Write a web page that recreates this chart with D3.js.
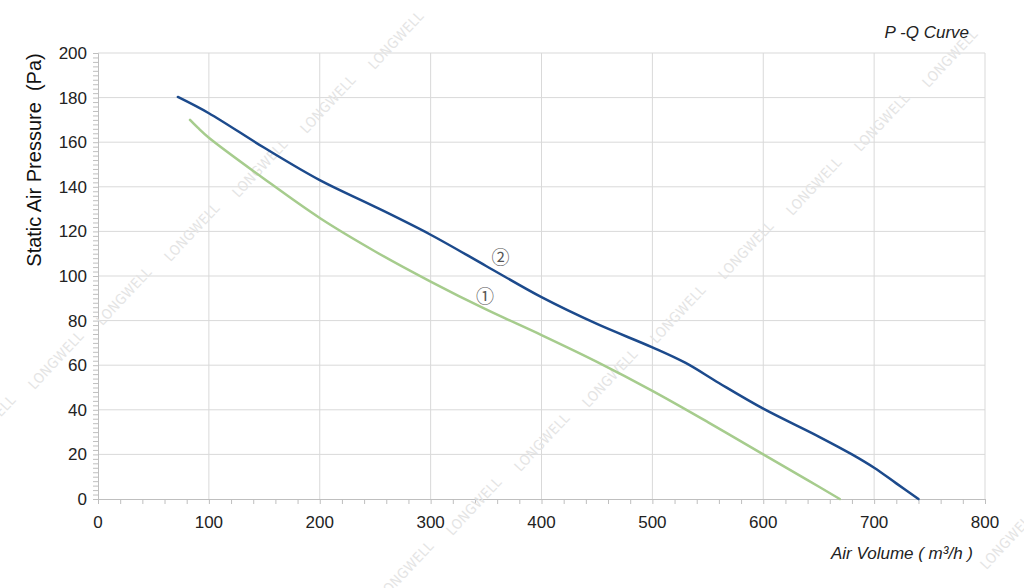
<!DOCTYPE html>
<html><head><meta charset="utf-8">
<script src="https://cdn.jsdelivr.net/npm/d3@7"></script>
<style>body{margin:0;background:#fff}svg{display:block}</style>
</head><body>
<svg id="c" width="1024" height="588"></svg>
<script>
const xTicks = [0,100,200,300,400,500,600,700,800];
const yTicks = [0,20,40,60,80,100,120,140,160,180,200];
const curve2Q = [72,100,150,200,250,300,350,400,450,500,530,560,600,650,680,700,720,740];
const curve2P = [180.3,173,157.5,143,131,118.5,104.5,90.5,78.5,68,61,52,40.5,28,20,14,7,0];
const curve1Q = [83,90,100,150,200,250,300,350,400,450,500,550,600,640,669];
const curve1P = [170,166.5,162,143.5,126,111,97.5,85,73.5,61.5,48.5,34.5,20,8.5,0];
const curveLabels = [{t:"①",q:349,p:90.6},{t:"②",q:363,p:108}];

const svg = d3.select("#c");
const m = {l:98,r:985,t:53,b:499};
const x = d3.scaleLinear().domain([0,800]).range([m.l,m.r]);
const y = d3.scaleLinear().domain([0,200]).range([m.b,m.t]);
const grid = "#d9d9d9", axc = "#bfbfbf";
const FF = "Liberation Sans, Arial, sans-serif";

// grid
const g = svg.append("g");
g.selectAll("line.v").data(xTicks.filter(d=>d>0)).join("line")
  .attr("x1",d=>x(d)).attr("x2",d=>x(d)).attr("y1",m.t).attr("y2",m.b)
  .attr("stroke",grid).attr("stroke-width",1);
g.selectAll("line.h").data(yTicks.filter(d=>d>0)).join("line")
  .attr("x1",m.l).attr("x2",m.r).attr("y1",d=>y(d)).attr("y2",d=>y(d))
  .attr("stroke",grid).attr("stroke-width",1);

// axes
const xAxis = d3.axisBottom(x).tickValues(d3.range(0,801,20)).tickSize(5).tickFormat("");
const xa = svg.append("g").attr("transform",`translate(0,${m.b})`).call(xAxis);
xa.select(".domain").attr("stroke",axc);
xa.selectAll(".tick line").attr("stroke",axc);
const yAxis = d3.axisLeft(y).tickValues(d3.range(0,201,2)).tickSize(5).tickFormat("");
const ya = svg.append("g").attr("transform",`translate(${m.l},0)`).call(yAxis);
ya.select(".domain").attr("stroke",axc);
ya.selectAll(".tick line").attr("stroke",axc);

// tick labels
svg.append("g").selectAll("text").data(xTicks).join("text")
  .attr("x",d=>x(d)).attr("y",528).attr("text-anchor","middle")
  .attr("font-family",FF).attr("font-size",17).attr("fill","#222")
  .text(d=>d);
svg.append("g").selectAll("text").data(yTicks).join("text")
  .attr("x",87).attr("y",d=>y(d)+6).attr("text-anchor","end")
  .attr("font-family",FF).attr("font-size",17).attr("fill","#222")
  .text(d=>d);

// watermarks
const wm = svg.append("g");
const wmPos = [];
for(let i=0;i<7;i++) wmPos.push([396-68*i, 40+64*i]);
for(let i=0;i<9;i++) wmPos.push([950-68*i, 58+64*i]);
wmPos.push([1008,540]);
wm.selectAll("text").data(wmPos).join("text")
  .attr("transform",d=>`translate(${d[0]},${d[1]}) rotate(-47)`)
  .attr("text-anchor","middle").attr("dy","0.35em")
  .attr("font-family","Liberation Sans Narrow, DejaVu Sans Condensed, sans-serif").attr("font-size",14)
  .attr("fill","#e4e4e4").attr("letter-spacing",0.4)
  .text("LONGWELL");

// curves
const line = d3.line().x(d=>x(d[0])).y(d=>y(d[1])).curve(d3.curveCatmullRom.alpha(0.5));
svg.append("path").datum(d3.zip(curve1Q,curve1P)).attr("d",line)
  .attr("fill","none").attr("stroke","#a6cc8d").attr("stroke-width",2.5).attr("stroke-linecap","round");
svg.append("path").datum(d3.zip(curve2Q,curve2P)).attr("d",line)
  .attr("fill","none").attr("stroke","#1c4a8c").attr("stroke-width",2.5).attr("stroke-linecap","round");

svg.append("g").selectAll("text").data(curveLabels).join("text")
  .attr("x",d=>x(d.q)).attr("y",d=>y(d.p)).attr("text-anchor","middle").attr("dy","0.35em")
  .attr("font-family","Noto Sans CJK SC, DejaVu Sans, sans-serif").attr("font-size",18).attr("fill","#555")
  .text(d=>d.t);

// titles
svg.append("text").attr("transform","translate(41,160) rotate(-90)").attr("text-anchor","middle")
  .attr("font-family",FF).attr("font-size",20).attr("fill","#111")
  .style("white-space","pre")
  .text("Static Air Pressure  (Pa)");
svg.append("text").attr("x",973).attr("y",559).attr("text-anchor","end")
  .attr("font-family",FF).attr("font-size",17).attr("font-style","italic").attr("fill","#222")
  .text("Air Volume ( m³/h )");
svg.append("text").attr("x",969).attr("y",38).attr("text-anchor","end")
  .attr("font-family",FF).attr("font-size",17).attr("font-style","italic").attr("fill","#222")
  .text("P -Q Curve");
</script>
</body></html>
